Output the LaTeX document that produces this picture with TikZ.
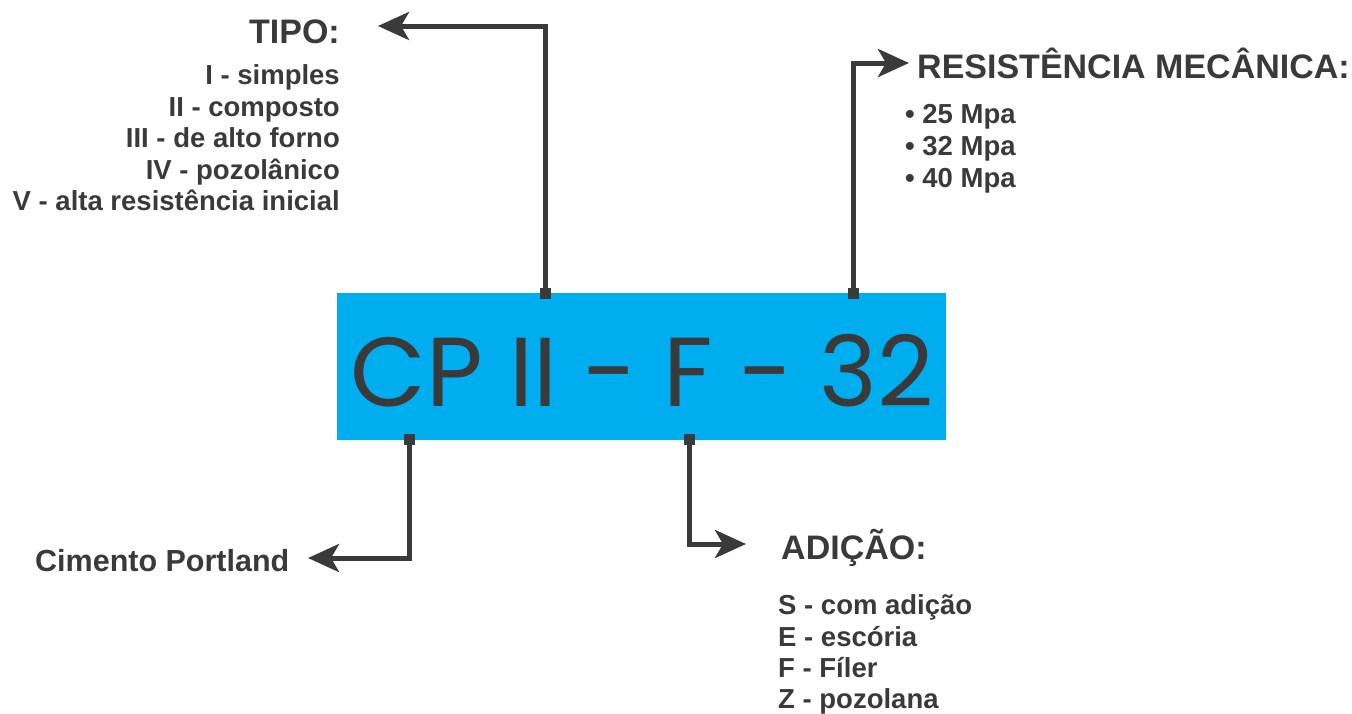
\documentclass[tikz,border=0pt]{standalone}
\usepackage{fontspec}
\setmainfont{Liberation Sans}
\newfontfamily\bigfont{Poppins}
\usetikzlibrary{arrows.meta, positioning, calc}
\definecolor{cpblue}{HTML}{00AEEF}
\definecolor{ink}{HTML}{3A3A3A}

\begin{document}
\begin{tikzpicture}[x=1pt, y=-1pt,
    head/.style={inner sep=0pt, text=ink, font=\fontsize{34}{38}\selectfont\bfseries},
    item/.style={inner sep=0pt, text=ink, font=\fontsize{27.5}{31}\selectfont\bfseries},
    sq/.style={rectangle, fill=ink, inner sep=0pt, minimum size=11pt},
    conn/.style={draw=ink, line width=5pt, -{Stealth[length=31pt, width=28pt, inset=8pt]}}]
\useasboundingbox (0,0) rectangle (1352,713);

%% the code itself
\node[fill=cpblue, inner sep=0pt, minimum width=609pt, minimum height=147pt]
  (cp) at (641.5,366.5) {};
\node[anchor=base, inner sep=0pt, text=ink, font=\fontsize{98}{108}\bigfont]
  (code) at (642,406) {CP II - F - 32};

%% square ends on the box edges
\node[sq] (sqT) at (545,293) {};
\node[sq] (sqR) at (853,293) {};
\node[sq] (sqC) at (409,439) {};
\node[sq] (sqA) at (689,439) {};

%% arrow tips
\coordinate (tipT) at (378,26);
\coordinate (tipR) at (909,63);
\coordinate (tipC) at (308,558);
\coordinate (tipA) at (746,544);

\draw[conn] (sqT.center) |- (tipT);
\draw[conn] (sqR.center) |- (tipR);
\draw[conn] (sqC.center) |- (tipC);
\draw[conn] (sqA.center) |- (tipA);
\foreach \s in {sqT,sqR,sqC,sqA}{ \node[sq] at (\s) {}; }

%% TIPO
\node[head, anchor=base east] (tipo) at (340,43) {TIPO:};
\foreach \t [count=\i] in {I - simples, II - composto, III - de alto forno,
    IV - pozolânico, V - alta resistência inicial}{
  \node[item, anchor=base east] (tipo\i) at (340,{53+31.5*\i}) {\t};
}

%% RESISTENCIA
\node[head, anchor=base west] (res) at (917,78) {RESISTÊNCIA MECÂNICA:};
\foreach \t [count=\i] in {25, 32, 40}{
  \node[item, anchor=base west] (res\i) at (905,{91.5+32*\i}) {• \t\ Mpa};
}

%% CIMENTO
\node[inner sep=0pt, text=ink, anchor=base west,
  font=\fontsize{30.5}{34}\selectfont\bfseries] (cim) at (35,571) {Cimento Portland};

%% ADICAO
\node[head, anchor=base west] (adi) at (781,559) {ADIÇÃO:};
\foreach \t [count=\i] in {S - com adição, E - escória, F - Fíler, Z - pozolana}{
  \node[item, anchor=base west] (adi\i) at (778,{583.5+31.3*\i}) {\t};
}
\end{tikzpicture}
\end{document}
